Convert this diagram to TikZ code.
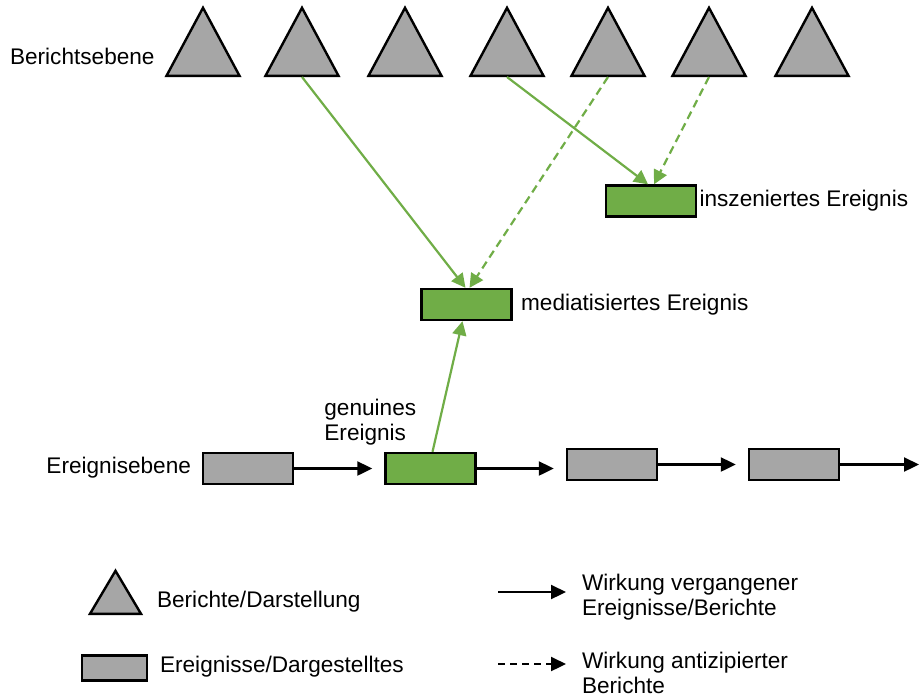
\documentclass[tikz,border=0pt]{standalone}
\usepackage{fontspec}
\setmainfont{Liberation Sans}
\usetikzlibrary{shapes.geometric,arrows.meta}
\definecolor{boxgray}{HTML}{A6A6A6}
\definecolor{evgreen}{HTML}{70AD47}

\begin{document}
\begin{tikzpicture}[x=0.5pt,y=-0.5pt,
    font=\fontsize{11.3}{12.5}\selectfont,
    report/.style={draw, line width=1.2pt, fill=boxgray, isosceles triangle,
        isosceles triangle stretches, shape border rotate=90,
        minimum width=36.5pt, minimum height=34pt, inner sep=0pt},
    event/.style={draw, line width=1.2pt, fill=boxgray, minimum width=45pt,
        minimum height=15.5pt, inner sep=0pt},
    greenevent/.style={event, fill=evgreen},
    past/.style={line width=1.1pt, -{Triangle[length=7.5pt,width=7pt]}},
    antic/.style={past, dash pattern=on 3.5pt off 2.5pt},
    gpast/.style={line width=1.1pt, evgreen, -{Triangle[length=7pt,width=7pt]}},
    ganti/.style={gpast, dash pattern=on 4pt off 2.5pt}]
    \useasboundingbox (0,0) rectangle (919,697);

    % Berichtsebene
    \node[anchor=west] (lrep) at (3,56) {Berichtsebene};
    \foreach \x [count=\i] in {203,302,405,507,608,709,812}
        \node[report, anchor=lower side] (t\i) at (\x,77) {};

    % inszeniertes und mediatisiertes Ereignis
    \node[greenevent] (insz) at (651,201) {};
    \node[anchor=west, inner sep=1pt] (linsz) at (insz.east) {inszeniertes Ereignis};
    \node[greenevent] (med) at (466.5,304.5) {};
    \node[anchor=west, inner sep=4pt] (lmed) at (med.east) {mediatisiertes Ereignis};

    % Ereignisebene
    \node[anchor=east] (levt) at (198,468) {Ereignisebene};
    \node[event] (e1) at (248,468.5) {};
    \node[greenevent] (gen) at (430.5,468.5) {};
    \node[event] (e3) at (612,464.5) {};
    \node[event] (e4) at (794,464.5) {};
    \coordinate (eend) at (919,466);
    \node[anchor=west, align=left, inner sep=0pt] (lgen) at (324,422) {genuines\\Ereignis};

    \draw[past, shorten >=6pt] (e1.east) -- (e1.east -| gen.west);
    \draw[past, shorten >=6pt] (gen.east) -- (gen.east -| e3.west);
    \draw[past, shorten >=6pt] (e3.east) -- (e3.east -| e4.west);
    \draw[past] (e4.east) -- (e4.east -| eend);

    % Wirkungen
    \draw[gpast] (t2.lower side) -- ([xshift=-0.5pt]med.north);
    \draw[ganti] (t5.lower side) -- ([xshift=1.5pt]med.north);
    \draw[gpast] (t4.lower side) -- ([xshift=-1.5pt]insz.north);
    \draw[ganti] (t6.lower side) -- ([xshift=1.5pt]insz.north);
    \draw[gpast] ([xshift=1pt]gen.north) -- ([xshift=-2pt]med.south);

    % Legende
    \node[report, anchor=lower side, minimum width=25.5pt, minimum height=21.5pt] (lgtri) at (115.5,615) {};
    \node[anchor=west] (lgtritxt) at (150,602) {Berichte/Darstellung};
    \node[event, minimum width=32.5pt, minimum height=12.5pt] (lgbox) at (114.5,668) {};
    \node[anchor=west] (lgboxtxt) at (153,667) {Ereignisse/Dargestelltes};
    \coordinate (lgpa) at (498,592);
    \coordinate (lgpb) at (566,592);
    \draw[past] (lgpa) -- (lgpb);
    \node[anchor=west, align=left] (lgptxt) at (575,597) {Wirkung vergangener\\Ereignisse/Berichte};
    \coordinate (lgaa) at (498,664);
    \coordinate (lgab) at (566,664);
    \draw[antic] (lgaa) -- (lgab);
    \node[anchor=west, align=left] (lgatxt) at (575,673) {Wirkung antizipierter\\Berichte};
\end{tikzpicture}
\end{document}
